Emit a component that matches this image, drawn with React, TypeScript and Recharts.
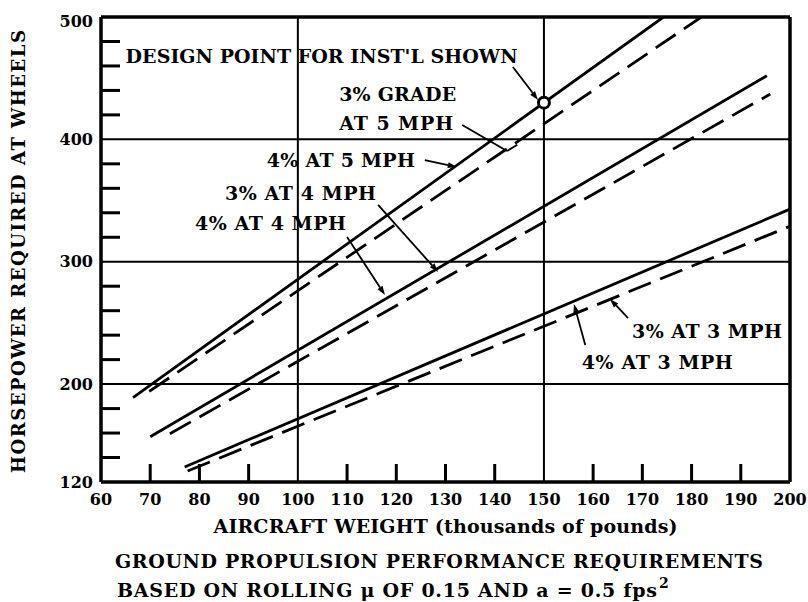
import { ComposedChart, Line, XAxis, YAxis, ReferenceLine, ReferenceDot, Label } from 'recharts'

const FONT = '"DejaVu Serif", serif'

// end points of each curve: aircraft weight (1000 lb) and horsepower at wheels
const grade3At5Weight = [66.5, 174.3]
const grade3At5Hp = [189, 500]
const grade4At5Weight = [69.8, 182]
const grade4At5Hp = [194, 500]
const grade3At4Weight = [70, 195.3]
const grade3At4Hp = [157, 452]
const grade4At4Weight = [74, 196]
const grade4At4Hp = [159.5, 437]
const grade3At3Weight = [77, 200]
const grade3At3Hp = [132.3, 343]
const grade4At3Weight = [77.6, 200]
const grade4At3Hp = [129, 329]

const xTicks = [60, 70, 80, 90, 100, 110, 120, 130, 140, 150, 160, 170, 180, 190, 200]
const xGridLines = [100, 150]
const yLabelTicks = [120, 200, 300, 400, 500]
const yMinorTicks = [140, 160, 180, 220, 240, 260, 280, 320, 340, 360, 380, 420, 440, 460, 480]
const yGridLines = [200, 300, 400]
const designWeight = 150
const designHp = 430

const toSeries = (w: number[], hp: number[]) => w.map((x, i) => ({ weight: x, hp: hp[i] }))

const series = [
  { name: '3% AT 5 MPH', data: toSeries(grade3At5Weight, grade3At5Hp), dashed: false },
  { name: '4% AT 5 MPH', data: toSeries(grade4At5Weight, grade4At5Hp), dashed: true },
  { name: '3% AT 4 MPH', data: toSeries(grade3At4Weight, grade3At4Hp), dashed: false },
  { name: '4% AT 4 MPH', data: toSeries(grade4At4Weight, grade4At4Hp), dashed: true },
  { name: '3% AT 3 MPH', data: toSeries(grade3At3Weight, grade3At3Hp), dashed: false },
  { name: '4% AT 3 MPH', data: toSeries(grade4At3Weight, grade4At3Hp), dashed: true },
]

// callout texts, placed in data units (left edge, baseline)
const notes = [
  { text: "DESIGN POINT FOR INST'L SHOWN", x: 65, y: 462.4, len: 392 },
  { text: '3% GRADE', x: 108.4, y: 431.4, len: 117 },
  { text: 'AT 5 MPH', x: 108.4, y: 407.7, len: 114 },
  { text: '4% AT 5 MPH', x: 93.7, y: 377.4, len: 148 },
  { text: '3% AT 4 MPH', x: 85.2, y: 350.5, len: 151 },
  { text: '4% AT 4 MPH', x: 79.1, y: 326, len: 151 },
  { text: '3% AT 3 MPH', x: 167.9, y: 237.7, len: 150 },
  { text: '4% AT 3 MPH', x: 157.7, y: 212.3, len: 151 },
]

const leaders = [
  { from: [143.7, 459.1], to: [148.8, 432.2], head: true },
  { from: [133.4, 411.7], to: [142.5, 390.5], head: false },
  { from: [142.5, 390.5], to: [144.6, 395.6], head: false },
  { from: [125.8, 383.1], to: [132.3, 377.4], head: true },
  { from: [116.3, 346.4], to: [128.5, 291.6], head: true },
  { from: [110, 320.2], to: [117.7, 272.8], head: true },
  { from: [167.1, 254], to: [163.4, 269.6], head: true },
  { from: [158.4, 232], to: [156.1, 265.5], head: true },
]

const YTick = (props: any) => {
  const { x, y, payload } = props
  const v = payload.value
  return (
    <text x={x - 8} y={y + (v === 500 ? 4 : 0)} dy="0.36em" textAnchor="end"
      fontFamily={FONT} fontWeight="bold" fontSize={16} fill="#000">{v}</text>
  )
}

const XTick = (props: any) => {
  const { x, y, payload } = props
  const v = payload.value
  const inner = v !== 60 && v !== 200 && !xGridLines.includes(v)
  return (
    <g>
      {inner && <line x1={x} y1={y} x2={x} y2={y - 18} stroke="#000" strokeWidth={3} />}
      <text x={x} y={y + 23} textAnchor="middle" fontFamily={FONT} fontWeight="bold"
        fontSize={16} fill="#000">{v}</text>
    </g>
  )
}

// short inward tick from the left axis
const minorTick = (p: any) => {
  const left = Math.min(Number(p.x1), Number(p.x2))
  const yy = Number(p.y1)
  return <path d={`M${left},${yy}h19`} stroke="#000" strokeWidth={3} fill="none" />
}

const YTitle = (props: any) => {
  const vb = props.viewBox
  const cx = vb.x + 25
  const cy = vb.y + vb.height / 2 + 2
  return (
    <text x={cx} y={cy} transform={`rotate(-90 ${cx} ${cy})`} textAnchor="middle"
      textLength={443} lengthAdjust="spacing" fontFamily={FONT} fontWeight="bold"
      fontSize={18} fill="#000">HORSEPOWER REQUIRED AT WHEELS</text>
  )
}

const XTitle = (props: any) => {
  const vb = props.viewBox
  const common = { fontFamily: FONT, fontWeight: 'bold', fill: '#000', fontSize: 19 }
  return (
    <g>
      <text x={vb.x + vb.width / 2} y={vb.y + 51} textAnchor="middle" textLength={464}
        lengthAdjust="spacing" {...common}>AIRCRAFT WEIGHT (thousands of pounds)</text>
      <text x={vb.x + 14} y={vb.y + 86} textLength={648} lengthAdjust="spacing" {...common}>
        GROUND PROPULSION PERFORMANCE REQUIREMENTS
      </text>
      <text x={vb.x + 16} y={vb.y + 115} textLength={540} lengthAdjust="spacing" {...common}>
        BASED ON ROLLING μ OF 0.15 AND a = 0.5 fps
      </text>
      <text x={vb.x + 558} y={vb.y + 106} {...common} fontSize={14}>2</text>
    </g>
  )
}

const noteShape = (text: string, len: number) => (p: any) => (
  <text x={p.cx} y={p.cy} textLength={len} lengthAdjust="spacing" fontFamily={FONT}
    fontWeight="bold" fontSize={19} fill="#000">{text}</text>
)

const leaderShape = (head: boolean) => (p: any) => {
  const { x1, y1, x2, y2 } = p
  const dx = x2 - x1
  const dy = y2 - y1
  const len = Math.sqrt(dx * dx + dy * dy) || 1
  const ux = dx / len
  const uy = dy / len
  const bx = x2 - ux * 9
  const by = y2 - uy * 9
  return (
    <g>
      <line x1={x1} y1={y1} x2={head ? bx : x2} y2={head ? by : y2} stroke="#000" strokeWidth={1.8} />
      {head && (
        <polygon
          points={`${x2},${y2} ${bx - uy * 3},${by + ux * 3} ${bx + uy * 3},${by - ux * 3}`}
          fill="#000"
        />
      )}
    </g>
  )
}

export default function App() {
  return (
    <div style={{ position: 'absolute', left: 0, top: 0, width: 808, height: 602, background: '#fff' }}>
      <ComposedChart width={808} height={602} margin={{ top: 17, right: 18, bottom: 0, left: 0 }}>
        <XAxis
          type="number"
          dataKey="weight"
          domain={[60, 200]}
          ticks={xTicks}
          interval={0}
          allowDataOverflow
          height={120}
          tickSize={0}
          tickMargin={0}
          tickLine={false}
          tick={<XTick />}
          axisLine={{ stroke: '#000', strokeWidth: 3.5 }}
        >
          <Label content={<XTitle />} />
        </XAxis>
        <YAxis
          type="number"
          domain={[120, 500]}
          ticks={yLabelTicks}
          interval={0}
          allowDataOverflow
          width={101}
          tickSize={0}
          tickMargin={0}
          tickLine={false}
          tick={<YTick />}
          axisLine={{ stroke: '#000', strokeWidth: 3.5 }}
        >
          <Label content={<YTitle />} />
        </YAxis>

        {yMinorTicks.map((v) => (
          <ReferenceLine
            key={`my${v}`}
            segment={[{ x: 60, y: v }, { x: 200, y: v }]}
            stroke="#000"
            shape={minorTick}
          />
        ))}
        {xGridLines.map((v) => (
          <ReferenceLine key={`gx${v}`} x={v} stroke="#000" strokeWidth={2} />
        ))}
        {yGridLines.map((v) => (
          <ReferenceLine key={`gy${v}`} y={v} stroke="#000" strokeWidth={2} />
        ))}
        <ReferenceLine x={200} stroke="#000" strokeWidth={3.5} />
        <ReferenceLine y={500} stroke="#000" strokeWidth={3.5} />

        {series.map((s) => (
          <Line
            key={s.name}
            name={s.name}
            data={s.data}
            dataKey="hp"
            type="linear"
            stroke="#000"
            strokeWidth={2.8}
            strokeDasharray={s.dashed ? '24 10' : undefined}
            dot={false}
            activeDot={false}
            isAnimationActive={false}
          />
        ))}

        {leaders.map((l, i) => (
          <ReferenceLine
            key={`ld${i}`}
            segment={[{ x: l.from[0], y: l.from[1] }, { x: l.to[0], y: l.to[1] }]}
            shape={leaderShape(l.head)}
          />
        ))}

        {notes.map((n) => (
          <ReferenceDot key={n.text} x={n.x} y={n.y} r={1} shape={noteShape(n.text, n.len)} />
        ))}

        <ReferenceDot x={designWeight} y={designHp} r={5.5} fill="#fff" stroke="#000" strokeWidth={3} />
      </ComposedChart>
    </div>
  )
}
